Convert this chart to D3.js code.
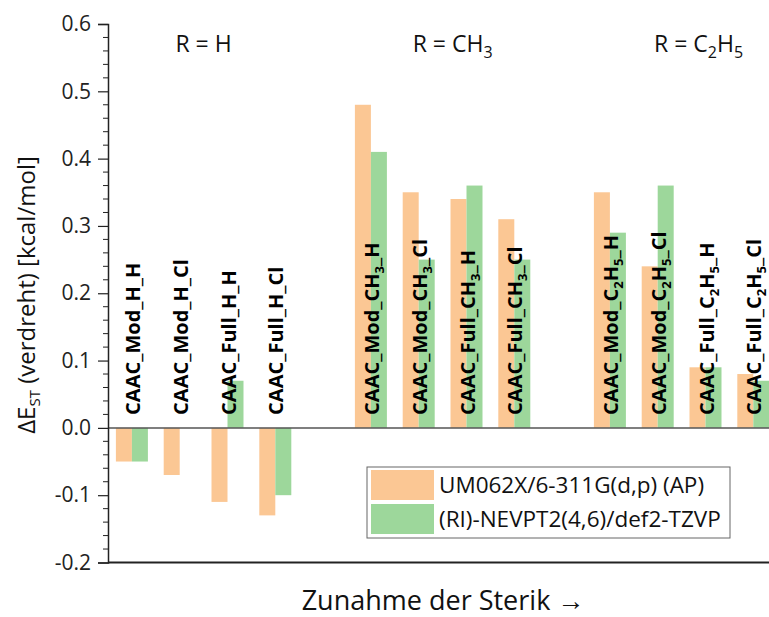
<!DOCTYPE html>
<html>
<head>
<meta charset="utf-8">
<script src="https://cdn.jsdelivr.net/npm/d3@7"></script>
<style>
  body { margin: 0; background: #fff; }
  text { font-family: "Open Sans", "Noto Sans", sans-serif; }
</style>
</head>
<body>
<script>
// category labels, each part is [text, isSubscript]
const categories = [
    [["CAAC_Mod_H_H", 0]],
    [["CAAC_Mod_H_Cl", 0]],
    [["CAAC_Full_H_H", 0]],
    [["CAAC_Full_H_Cl", 0]],
    [["CAAC_Mod_CH", 0], ["3", 1], ["_H", 0]],
    [["CAAC_Mod_CH", 0], ["3", 1], ["_Cl", 0]],
    [["CAAC_Full_CH", 0], ["3", 1], ["_H", 0]],
    [["CAAC_Full_CH", 0], ["3", 1], ["_Cl", 0]],
    [["CAAC_Mod_C", 0], ["2", 1], ["H", 0], ["5", 1], ["_H", 0]],
    [["CAAC_Mod_C", 0], ["2", 1], ["H", 0], ["5", 1], ["_Cl", 0]],
    [["CAAC_Full_C", 0], ["2", 1], ["H", 0], ["5", 1], ["_H", 0]],
    [["CAAC_Full_C", 0], ["2", 1], ["H", 0], ["5", 1], ["_Cl", 0]]
];
// slot index on the x axis (one empty slot between groups)
const slots = [0, 1, 2, 3, 5, 6, 7, 8, 10, 11, 12, 13];

const dftValues = [-0.05, -0.07, -0.11, -0.13, 0.48, 0.35, 0.34, 0.31, 0.35, 0.24, 0.09, 0.08];
const nevptValues = [-0.05, 0.00, 0.07, -0.10, 0.41, 0.25, 0.36, 0.25, 0.29, 0.36, 0.09, 0.07];

const seriesNames = ["UM062X/6-311G(d,p) (AP)", "(RI)-NEVPT2(4,6)/def2-TZVP"];
const seriesColors = ["#fbc794", "#9dd79b"];

const groupTitles = [
    [["R = H", 0]],
    [["R = CH", 0], ["3", 1]],
    [["R = C", 0], ["2", 1], ["H", 0], ["5", 1]]
];
const groupCenters = [1.5, 6.5, 11.5];

const yTicks = [-0.2, -0.1, 0.0, 0.1, 0.2, 0.3, 0.4, 0.5, 0.6];

const width = 769, height = 617;
const margin = { top: 24, left: 108, bottom: 54 };

const svg = d3.select("body").append("svg")
    .attr("width", width)
    .attr("height", height);

const x = d3.scaleBand()
    .domain(d3.range(14))
    .range([margin.left, margin.left + 14 * 47.8]);

const y = d3.scaleLinear()
    .domain([-0.2, 0.6])
    .range([height - margin.bottom - 0.5, margin.top]);

const barW = 16;

// helper to write text with subscripts (shift in px)
function writeParts(sel, parts, subSize, shift) {
    let down = false;
    parts.forEach(function(p) {
        const ts = sel.append("tspan").text(p[0]);
        if (p[1]) {
            ts.attr("dy", shift).attr("font-size", subSize);
            down = true;
        } else if (down) {
            ts.attr("dy", -shift);
            down = false;
        }
    });
}

// bars
const series = [dftValues, nevptValues];
series.forEach(function(vals, s) {
    svg.append("g").selectAll("rect")
        .data(vals)
        .enter()
        .append("rect")
        .attr("x", (d, i) => x(slots[i]) + x.bandwidth() / 2 - barW + s * barW)
        .attr("width", barW)
        .attr("y", d => y(Math.max(0, d)))
        .attr("height", d => Math.abs(y(d) - y(0)))
        .style("fill", seriesColors[s]);
});

// zero line
svg.append("line")
    .attr("x1", margin.left).attr("x2", width)
    .attr("y1", y(0)).attr("y2", y(0))
    .style("stroke", "#555").style("stroke-width", 1.5);

// y axis with minor ticks
const fmt = d => d3.format(".1f")(d).replace("\u2212", "-");
const yAxis = d3.axisLeft(y).tickValues(yTicks).tickFormat(fmt).tickSize(10).tickPadding(7);
const gy = svg.append("g").attr("transform", "translate(" + margin.left + ",0)").call(yAxis);
gy.attr("font-family", "'Open Sans', sans-serif").attr("font-size", 21);
gy.select(".domain").style("stroke", "#222").style("stroke-width", 1.5);
gy.selectAll(".tick line").style("stroke", "#222").style("stroke-width", 1.2);
gy.selectAll(".tick text").attr("fill", "#222");
const minor = d3.range(-0.2, 0.6001, 0.02).filter(v => Math.abs(v * 10 - Math.round(v * 10)) > 1e-6);
gy.selectAll(".minor").data(minor).enter().append("line")
    .attr("x1", -5).attr("x2", 0)
    .attr("y1", d => y(d)).attr("y2", d => y(d))
    .style("stroke", "#222").style("stroke-width", 1);

// bottom axis line
svg.append("line")
    .attr("x1", margin.left).attr("x2", width)
    .attr("y1", y(-0.2)).attr("y2", y(-0.2))
    .style("stroke", "#222").style("stroke-width", 2);

// category labels (rotated)
categories.forEach(function(parts, i) {
    const cx = x(slots[i]) + x.bandwidth() / 2 + 8;
    const t = svg.append("text")
        .attr("transform", "translate(" + cx + "," + (y(0) - 13) + ") rotate(-90)")
        .attr("font-size", 20)
        .attr("font-weight", "bold")
        .attr("fill", "#000");
    writeParts(t, parts, 13, 5);
});

// group titles
const titleShift = [0, 10, 17];
groupTitles.forEach(function(parts, i) {
    const t = svg.append("text")
        .attr("x", margin.left + (groupCenters[i] + 0.5) * x.step() + titleShift[i])
        .attr("y", 52)
        .attr("text-anchor", "middle")
        .attr("font-size", 23)
        .attr("fill", "#111");
    writeParts(t, parts, 16, 6);
});

// y axis title
const yt = svg.append("text")
    .attr("transform", "translate(35,295) rotate(-90)")
    .attr("text-anchor", "middle")
    .attr("font-size", 24)
    .attr("fill", "#111");
writeParts(yt, [["\u0394E", 0], ["ST", 1], [" (verdreht) [kcal/mol]", 0]], 15, 5);

// x axis title
svg.append("text")
    .attr("x", 443)
    .attr("y", 610)
    .attr("text-anchor", "middle")
    .attr("font-size", 27)
    .attr("fill", "#111")
    .text("Zunahme der Sterik \u2192");

// legend
const legend = svg.append("g").attr("transform", "translate(367,467)");
legend.append("rect")
    .attr("width", 363).attr("height", 71)
    .style("fill", "#fff").style("stroke", "#666").style("stroke-width", 1);
seriesNames.forEach(function(name, i) {
    legend.append("rect")
        .attr("x", 4).attr("y", 3 + i * 34)
        .attr("width", 63).attr("height", 30)
        .style("fill", seriesColors[i]);
    legend.append("text")
        .attr("x", 72).attr("y", 26 + i * 34)
        .attr("font-size", 22.5)
        .attr("fill", "#111")
        .text(name);
});
</script>
</body>
</html>
